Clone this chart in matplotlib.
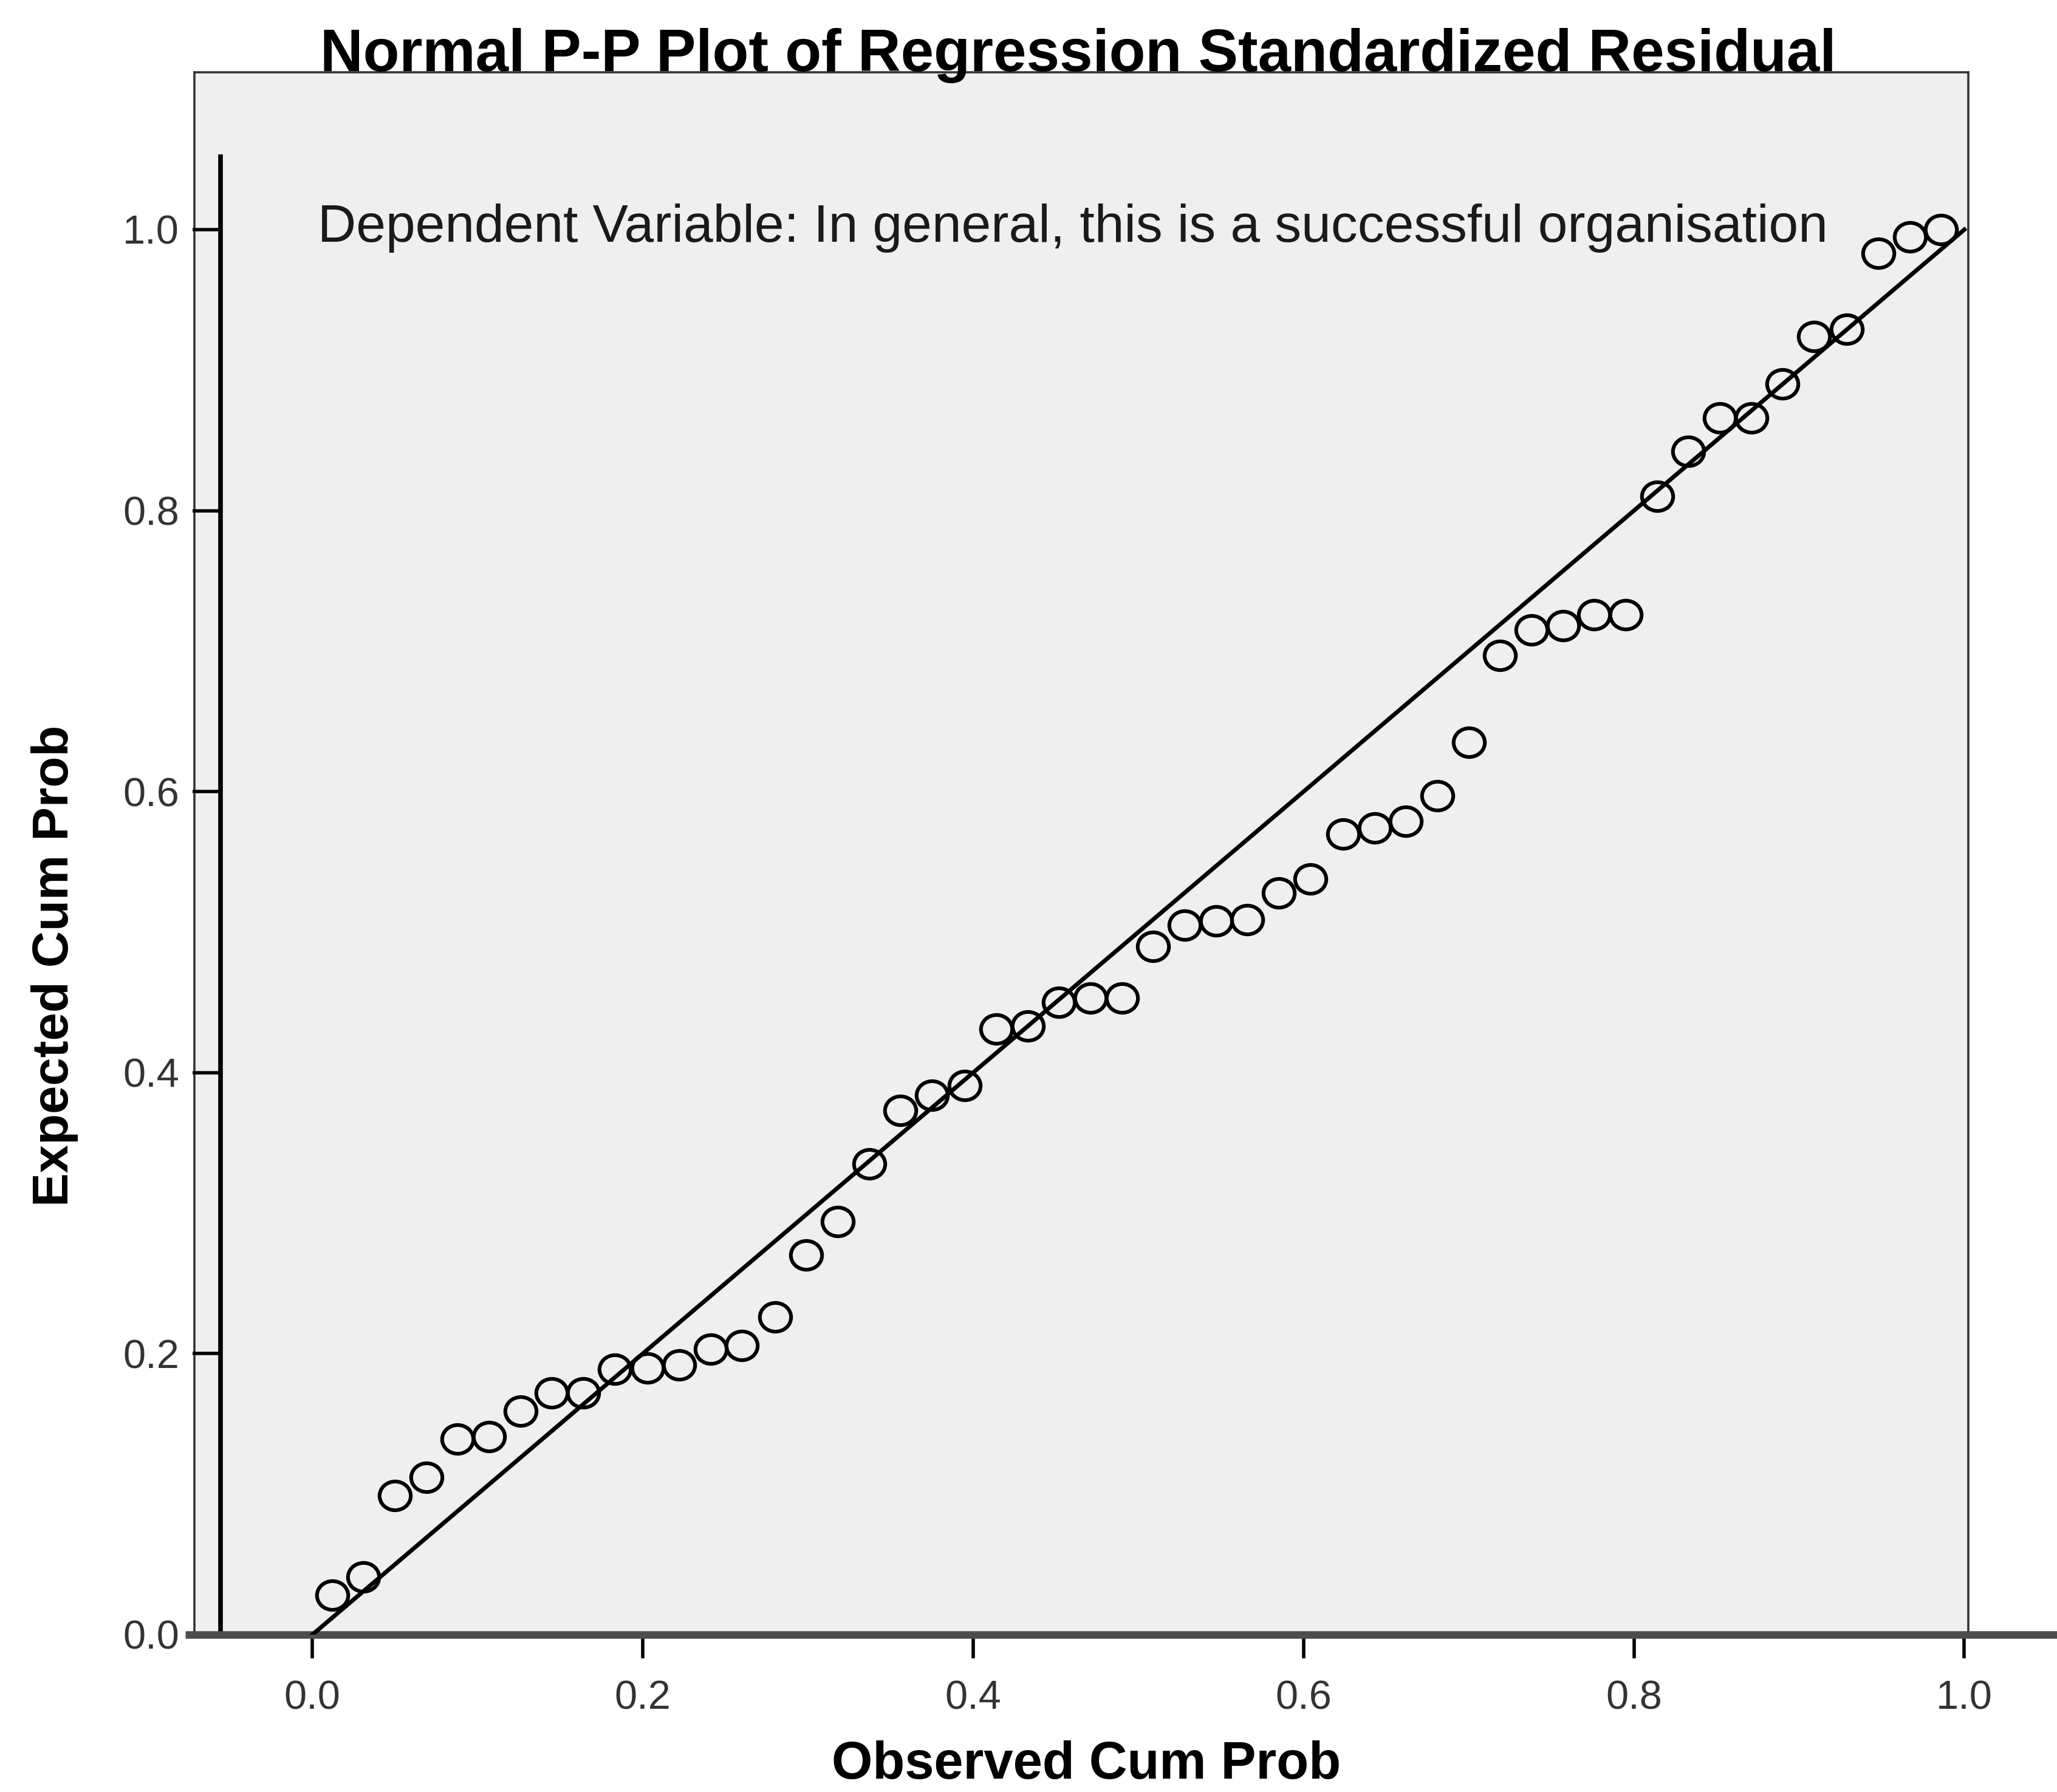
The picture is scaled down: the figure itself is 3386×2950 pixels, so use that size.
import matplotlib
matplotlib.use('Agg')
import matplotlib.pyplot as plt
from matplotlib.path import Path
from matplotlib.markers import MarkerStyle
from matplotlib.transforms import Affine2D

# ---------------- data ----------------
observed = [0.012, 0.031, 0.050, 0.069, 0.088, 0.107, 0.126, 0.145, 0.164, 0.183,
            0.203, 0.222, 0.241, 0.260, 0.280, 0.299, 0.318, 0.337, 0.356, 0.375,
            0.395, 0.414, 0.433, 0.452, 0.471, 0.490, 0.509, 0.528, 0.547, 0.566,
            0.585, 0.604, 0.624, 0.643, 0.662, 0.681, 0.700, 0.719, 0.738, 0.757,
            0.776, 0.795, 0.814, 0.833, 0.852, 0.871, 0.890, 0.909, 0.929, 0.948,
            0.967, 0.986]
expected = [0.028, 0.041, 0.099, 0.112, 0.139, 0.141, 0.159, 0.172, 0.172, 0.189,
            0.190, 0.192, 0.203, 0.206, 0.226, 0.270, 0.294, 0.335, 0.373, 0.384,
            0.391, 0.431, 0.433, 0.450, 0.453, 0.453, 0.490, 0.505, 0.508, 0.509,
            0.528, 0.538, 0.570, 0.574, 0.579, 0.597, 0.635, 0.697, 0.715, 0.718,
            0.726, 0.726, 0.810, 0.842, 0.866, 0.866, 0.890, 0.924, 0.929, 0.983,
            0.995, 1.000]
reference_line = [0.0, 1.0]
tick_values = [0.0, 0.2, 0.4, 0.6, 0.8, 1.0]
tick_labels = ['0.0', '0.2', '0.4', '0.6', '0.8', '1.0']
title = 'Normal P-P Plot of Regression Standardized Residual'
subtitle = 'Dependent Variable: In general, this is a successful organisation'
xlabel = 'Observed Cum Prob'
ylabel = 'Expected Cum Prob'

plt.rcParams['font.family'] = ['Liberation Sans', 'DejaVu Sans']

fig = plt.figure(figsize=(33.87, 29.5), dpi=100, facecolor='white')
ax = fig.add_axes([0.0944, 0.0878, 0.8622, 0.8719])
ax.set_facecolor('#efefef')
ax.set_xlim(-0.0715, 1.0024)
ax.set_ylim(0.0, 1.112)

frame_col = '#333333'
for s in ['top', 'right']:
    ax.spines[s].set_linewidth(2.6)
    ax.spines[s].set_color(frame_col)
ax.spines['bottom'].set_visible(False)
ax.spines['left'].set_position(('data', -0.0556))
ax.spines['left'].set_bounds(0, 1.052)
ax.spines['left'].set_linewidth(5.5)
ax.spines['left'].set_color('black')

# left edge of the plot frame
ax.plot([0, 0], [0, 1], transform=ax.transAxes, color=frame_col, lw=2.6,
        clip_on=False, zorder=1)
# horizontal x axis line running to the right edge
ax.plot([-0.077, 1.08], [0, 0], color='#4d4d4d', lw=9, clip_on=False,
        solid_capstyle='butt', zorder=3)

ax.set_xticks(tick_values)
ax.set_xticklabels(tick_labels)
ax.set_yticks(tick_values)
ax.set_yticklabels(tick_labels)
ax.tick_params(axis='x', direction='out', length=28, width=4, pad=26,
               labelsize=48, labelcolor='#333333', color='black')
ax.tick_params(axis='y', direction='out', length=33, width=4, pad=16,
               labelsize=48, labelcolor='#333333', color='black')

# reference diagonal
ax.plot(reference_line, reference_line, color='black', lw=5, zorder=4)

# open elliptical markers
ell = Path.unit_circle().transformed(Affine2D().scale(1.0, 0.92))
ax.plot(observed, expected, linestyle='none', marker=MarkerStyle(ell),
        markersize=37, markerfacecolor='none', markeredgecolor='black',
        markeredgewidth=4.4, zorder=5)

fig.text(0.524, 0.9605, title, ha='center', va='baseline', fontsize=70.5,
         fontweight='bold')
fig.text(0.1543, 0.865, subtitle, ha='left', va='baseline', fontsize=63,
         color='#1a1a1a')
fig.text(0.528, 0.0073, xlabel, ha='center', va='baseline', fontsize=62.5,
         fontweight='bold')
fig.text(0.0332, 0.461, ylabel, rotation=90, rotation_mode='anchor',
         ha='center', va='baseline', fontsize=60, fontweight='bold')

fig.savefig('out.png', dpi=100, facecolor='white')
